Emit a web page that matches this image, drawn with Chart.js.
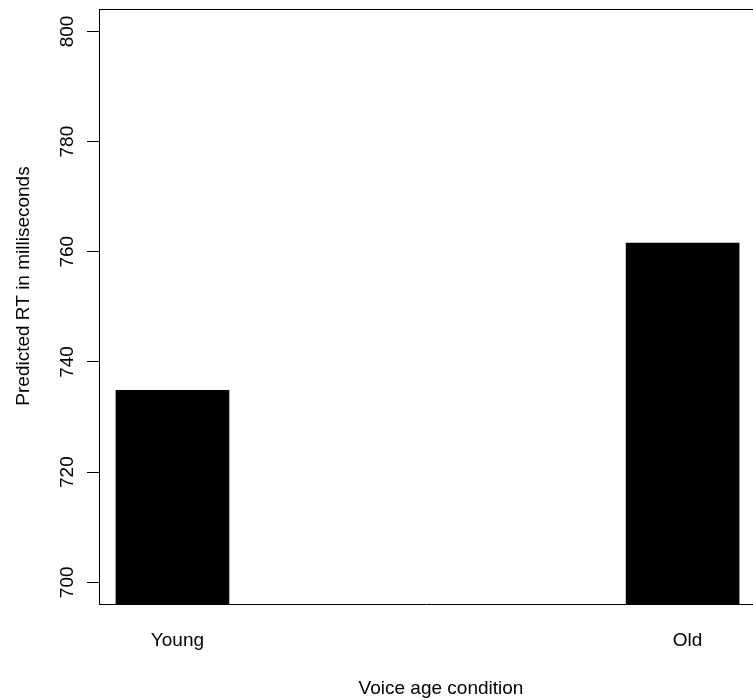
<!DOCTYPE html>
<html>
<head>
<meta charset="utf-8">
<script src="https://cdn.jsdelivr.net/npm/chart.js@4"></script>
<style>
  body { margin: 0; background: #fff; }
  #wrap { width: 753px; height: 700px; position: relative; }
</style>
</head>
<body>
<div id="wrap"><canvas id="chart"></canvas></div>
<script>
// data
const categories = ['Young', 'Old'];
const positions = [1, 2];
const predictedRT = [734.85, 761.6];
const yTicks = [700, 720, 740, 760, 780, 800];

const FONT = "'Liberation Sans', Arial, sans-serif";

// R-style extras: rotated y labels, axis titles, top box line
const rStyle = {
  id: 'rStyle',
  afterDraw(chart) {
    const { ctx, chartArea } = chart;
    const y = chart.scales.y;
    ctx.save();
    ctx.fillStyle = '#000';
    ctx.strokeStyle = '#000';
    ctx.lineWidth = 1;
    // top of the box
    ctx.beginPath();
    ctx.moveTo(chartArea.left, chartArea.top + 0.5);
    ctx.lineTo(chart.width, chartArea.top + 0.5);
    ctx.stroke();

    ctx.font = '19px ' + FONT;
    ctx.textAlign = 'center';
    ctx.textBaseline = 'alphabetic';
    yTicks.forEach(v => {
      ctx.save();
      ctx.translate(73, y.getPixelForValue(v));
      ctx.rotate(-Math.PI / 2);
      ctx.fillText(String(v), 0, 0);
      ctx.restore();
    });

    // axis titles
    ctx.fillText('Voice age condition', 441, 694);
    ctx.save();
    ctx.translate(28.5, 286);
    ctx.rotate(-Math.PI / 2);
    ctx.fillText('Predicted RT in milliseconds', 0, 0);
    ctx.restore();
    ctx.restore();
  }
};

new Chart(document.getElementById('chart'), {
  type: 'bar',
  data: {
    datasets: [{
      data: positions.map((p, i) => ({ x: p, y: predictedRT[i] })),
      backgroundColor: '#000',
      borderWidth: 0,
      barThickness: 113,
    }],
  },
  options: {
    responsive: true,
    maintainAspectRatio: false,
    animation: false,
    layout: { padding: { top: 9, left: 0, right: 0, bottom: 0 } },
    plugins: { legend: { display: false }, tooltip: { enabled: false } },
    scales: {
      x: {
        type: 'linear',
        offset: false,
        min: 0.856,
        max: 2.138,
        afterBuildTicks: s => { s.ticks = positions.map(v => ({ value: v })); },
        afterFit: s => { s.height = 96; },
        grid: { display: false, drawTicks: false },
        border: { display: true, color: '#000', width: 1 },
        ticks: {
          color: '#000',
          font: { family: FONT, size: 19 },
          padding: 25,
          labelOffset: 5,
          maxRotation: 0,
          autoSkip: false,
          callback: v => categories[positions.indexOf(v)] || '',
        },
      },
      y: {
        min: 696.06,
        max: 804.07,
        afterBuildTicks: s => { s.ticks = yTicks.map(v => ({ value: v })); },
        afterFit: s => { s.width = 99; },
        grid: { display: true, drawOnChartArea: false, drawTicks: true, tickLength: 12, color: '#000', lineWidth: 1 },
        border: { display: true, color: '#000', width: 1 },
        ticks: { display: false },
      },
    },
  },
  plugins: [rStyle],
});
</script>
</body>
</html>
